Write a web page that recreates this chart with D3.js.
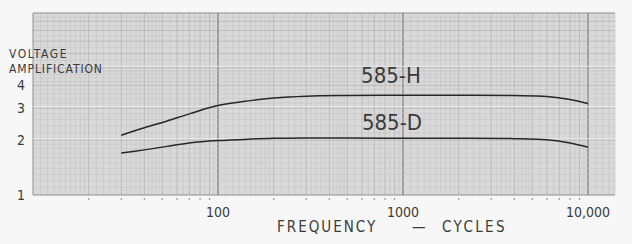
<!DOCTYPE html>
<html>
<head>
<meta charset="utf-8">
<script src="https://cdn.jsdelivr.net/npm/d3@7"></script>
<style>
  body { margin: 0; background: #f7f7f7; }
  svg { display: block; }
  text { font-family: "DejaVu Sans Condensed", "DejaVu Sans", sans-serif; fill: #3a3a3a; }
</style>
</head>
<body>
<svg id="chart" width="632" height="244"></svg>
<script>
// frequency (cycles) and voltage amplification
var freqH = [30, 40, 53, 70, 100, 150, 200, 300, 500, 1000, 2000, 4000, 6000, 8000, 10000];
var ampH  = [2.13, 2.34, 2.55, 2.79, 3.10, 3.30, 3.41, 3.49, 3.52, 3.53, 3.53, 3.52, 3.48, 3.35, 3.18];
var freqD = [30, 40, 53, 70, 100, 150, 200, 300, 500, 1000, 2000, 4000, 6000, 8000, 10000];
var ampD  = [1.70, 1.77, 1.85, 1.93, 1.99, 2.03, 2.05, 2.06, 2.06, 2.05, 2.05, 2.04, 2.01, 1.93, 1.83];

var xTicks = [100, 1000, 10000];
var xTickLabels = ["100", "1000", "10,000"];
var yTicks = [1, 2, 3, 4];
var curveNames = ["585-H", "585-D"];

var svg = d3.select("#chart");

var plotLeft = 33, plotRight = 615, plotTop = 13, plotBottom = 195;

var x = d3.scaleLog().domain([10, 14000]).range([plotLeft, plotRight]);
var y = d3.scaleLog().domain([1, 10]).range([plotBottom, plotTop]);

// log paper subdivisions within one decade
function subdiv(d) {
    var v = [];
    for (var k = 10; k < 20; k++) v.push(d * k / 10);
    for (var k = 20; k < 50; k += 2) v.push(d * k / 10);
    for (var k = 50; k <= 100; k += 5) v.push(d * k / 10);
    return v;
}

// plot paper
svg.append("rect")
    .attr("x", plotLeft).attr("y", plotTop)
    .attr("width", plotRight - plotLeft).attr("height", plotBottom - plotTop)
    .attr("fill", "#d9d9d9");

var grid = svg.append("g");

var xs = [];
[10, 100, 1000, 10000].forEach(function (d) {
    subdiv(d).forEach(function (v) { if (v <= 14000) xs.push(v); });
});
var ys = subdiv(1);

function isMajor(v) {
    var p = Math.pow(10, Math.floor(Math.log10(v) + 1e-9));
    var m = v / p;
    return Math.abs(m - Math.round(m)) < 1e-6;
}
function isDecade(v) {
    var l = Math.log10(v);
    return Math.abs(l - Math.round(l)) < 1e-6;
}
function gridColor(d) { return isDecade(d) ? "#8c8c8c" : isMajor(d) ? "#a9a9a9" : "#c4c4c4"; }

grid.selectAll("line.vx").data(xs).enter().append("line")
    .attr("x1", function (d) { return x(d); })
    .attr("x2", function (d) { return x(d); })
    .attr("y1", plotTop).attr("y2", plotBottom)
    .attr("stroke", gridColor)
    .attr("stroke-width", function (d) { return isDecade(d) ? 1 : 0.6; });

grid.selectAll("line.hy").data(ys).enter().append("line")
    .attr("y1", function (d) { return y(d); })
    .attr("y2", function (d) { return y(d); })
    .attr("x1", plotLeft).attr("x2", plotRight)
    .attr("stroke", gridColor)
    .attr("stroke-width", function (d) { return isDecade(d) ? 1 : 0.6; });

// light streaks of the printed paper
[2, 3, 5].forEach(function (v) {
    grid.append("line")
        .attr("x1", plotLeft).attr("x2", plotRight)
        .attr("y1", y(v) - 1.5).attr("y2", y(v) - 1.5)
        .attr("stroke", "#f0f0f0").attr("stroke-width", 0.8);
});

// small tick marks below the paper
var minor = xs.filter(function (d) { return isMajor(d) && !isDecade(d); });
svg.selectAll("line.tk").data(minor).enter().append("line")
    .attr("x1", function (d) { return x(d); })
    .attr("x2", function (d) { return x(d); })
    .attr("y1", plotBottom + 3).attr("y2", plotBottom + 5)
    .attr("stroke", "#999").attr("stroke-width", 1.2);

// curves
var line = d3.line()
    .x(function (d) { return x(d[0]); })
    .y(function (d) { return y(d[1]); })
    .curve(d3.curveCatmullRom.alpha(0.5));

[[freqH, ampH], [freqD, ampD]].forEach(function (s) {
    svg.append("path")
        .attr("d", line(d3.zip(s[0], s[1])))
        .attr("fill", "none")
        .attr("stroke", "#262626")
        .attr("stroke-width", 1.5);
});

// curve labels
svg.append("text").attr("x", 391).attr("y", 83)
    .attr("text-anchor", "middle").attr("font-size", 22)
    .attr("fill", "#333")
    .text(curveNames[0]);
svg.append("text").attr("x", 392).attr("y", 130)
    .attr("text-anchor", "middle").attr("font-size", 22)
    .attr("fill", "#333")
    .text(curveNames[1]);

// y tick labels
svg.selectAll("text.yt").data(yTicks).enter().append("text")
    .attr("x", 21)
    .attr("y", function (d) { return y(d) + 5; })
    .attr("text-anchor", "middle")
    .attr("font-size", 14)
    .text(function (d) { return d; });

// y title
svg.append("text").attr("x", 9).attr("y", 58)
    .attr("font-size", 12).attr("letter-spacing", 1.6)
    .text("VOLTAGE");
svg.append("text").attr("x", 9).attr("y", 73)
    .attr("font-size", 12).attr("letter-spacing", 0.9)
    .text("AMPLIFICATION");

// x tick labels
svg.selectAll("text.xt").data(xTicks).enter().append("text")
    .attr("x", function (d) { return x(d); })
    .attr("y", 217)
    .attr("text-anchor", "middle")
    .attr("font-size", 14)
    .text(function (d, i) { return xTickLabels[i]; });

// x title
svg.append("text").attr("x", 277).attr("y", 232)
    .attr("font-size", 15).attr("letter-spacing", 2)
    .text("FREQUENCY");
svg.append("text").attr("x", 412).attr("y", 232)
    .attr("font-size", 15)
    .text("—");
svg.append("text").attr("x", 442).attr("y", 232)
    .attr("font-size", 15).attr("letter-spacing", 2.4)
    .text("CYCLES");
</script>
</body>
</html>
